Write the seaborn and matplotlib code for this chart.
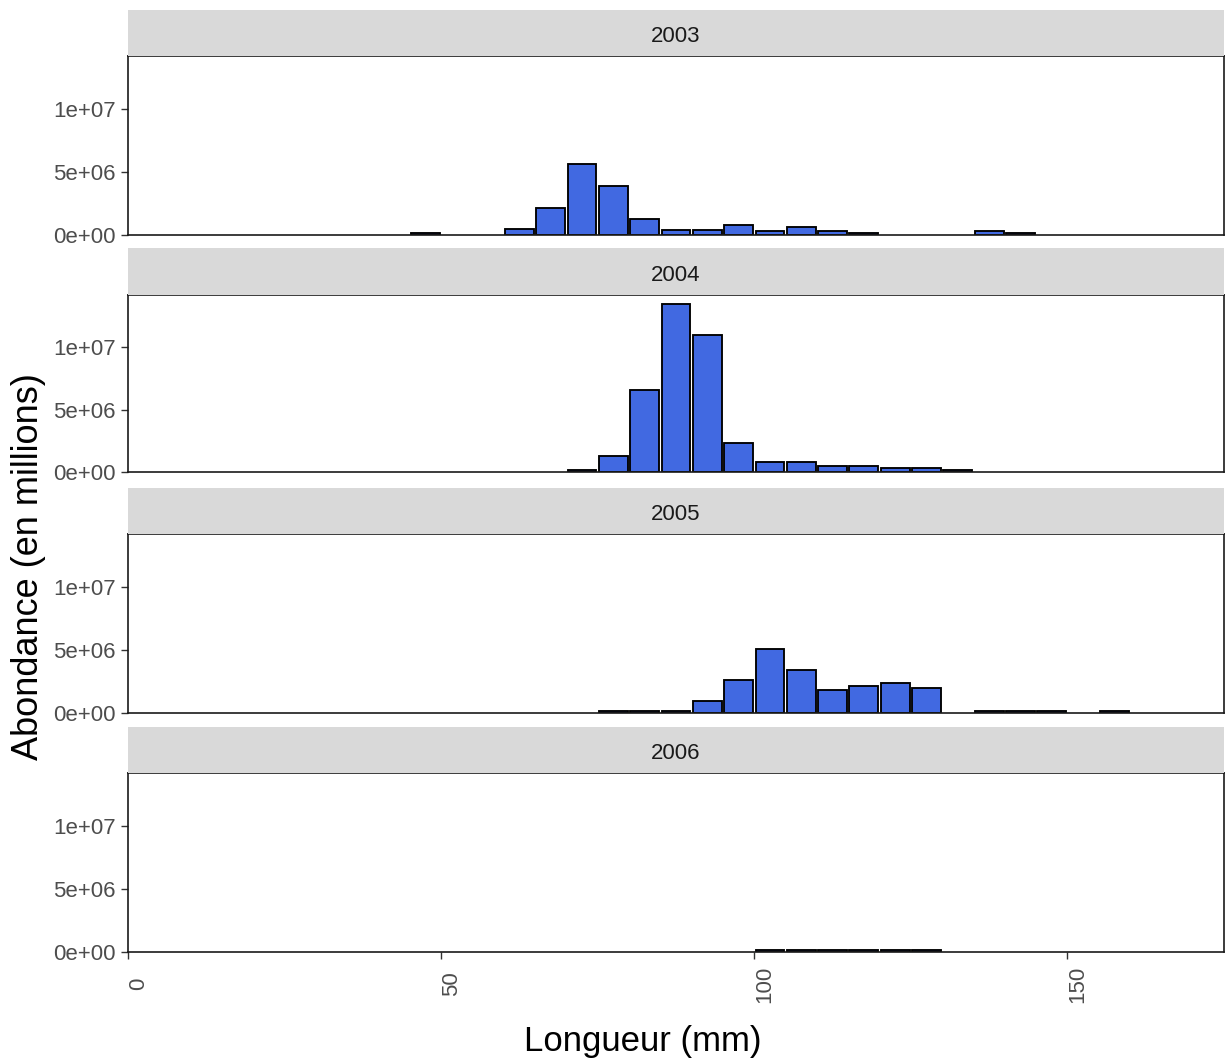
import numpy as np
import pandas as pd
import matplotlib
matplotlib.use("Agg")
import matplotlib.pyplot as plt
import seaborn as sns

# ~~~~~~~~~~~~~~~~~~~~~~~~~~~~~~~~~~~~~~~~~~~~~~~~~~~~~~~~~~~~~~~~~~~~~~~~~~~~~~~~~~~~~~~~~~~~~~~
# Length frequency (5 mm bins, value = bin midpoint) and abundance per year
# ~~~~~~~~~~~~~~~~~~~~~~~~~~~~~~~~~~~~~~~~~~~~~~~~~~~~~~~~~~~~~~~~~~~~~~~~~~~~~~~~~~~~~~~~~~~~~~~
years = [2003, 2004, 2005, 2006]

length_2003 = [47.5, 62.5, 67.5, 72.5, 77.5, 82.5, 87.5, 92.5, 97.5, 102.5, 107.5, 112.5,
               117.5, 137.5, 142.5]
abund_2003 = [0.12e6, 0.47e6, 2.15e6, 5.60e6, 3.88e6, 1.23e6, 0.42e6, 0.39e6, 0.76e6, 0.28e6,
              0.60e6, 0.31e6, 0.14e6, 0.34e6, 0.14e6]

length_2004 = [72.5, 77.5, 82.5, 87.5, 92.5, 97.5, 102.5, 107.5, 112.5, 117.5, 122.5, 127.5,
               132.5]
abund_2004 = [0.13e6, 1.28e6, 6.60e6, 13.5e6, 11.0e6, 2.35e6, 0.78e6, 0.78e6, 0.45e6, 0.45e6,
              0.30e6, 0.30e6, 0.13e6]

length_2005 = [77.5, 82.5, 87.5, 92.5, 97.5, 102.5, 107.5, 112.5, 117.5, 122.5, 127.5, 137.5,
               142.5, 147.5, 157.5]
abund_2005 = [0.12e6, 0.12e6, 0.12e6, 0.93e6, 2.65e6, 5.10e6, 3.40e6, 1.86e6, 2.14e6, 2.36e6,
              1.98e6, 0.12e6, 0.12e6, 0.12e6, 0.12e6]

length_2006 = [102.5, 107.5, 112.5, 117.5, 122.5, 127.5]
abund_2006 = [0.12e6, 0.12e6, 0.12e6, 0.12e6, 0.12e6, 0.12e6]

x_ticks = [0, 50, 100, 150]
y_ticks = [0, 5e6, 1e7]
y_tick_labels = ["0e+00", "5e+06", "1e+07"]

lengths = [length_2003, length_2004, length_2005, length_2006]
abunds = [abund_2003, abund_2004, abund_2005, abund_2006]

rows = []
for yr, ls, ab in zip(years, lengths, abunds):
    for l, a in zip(ls, ab):
        rows.append((yr, l, a))
df = pd.DataFrame(rows, columns=["year", "length", "abundance"])

# ~~~~~~~~~~~~~~~~~~~~~~~~~~~~~~~~~~~~~~~~~~~~~~~~~~~~~~~~~~~~~~~~~~~~~~~~~~~~~~~~~~~~~~~~~~~~~~~
# Layout, ggplot-like facets stacked vertically
# ~~~~~~~~~~~~~~~~~~~~~~~~~~~~~~~~~~~~~~~~~~~~~~~~~~~~~~~~~~~~~~~~~~~~~~~~~~~~~~~~~~~~~~~~~~~~~~~
sns.set_style("white")
plt.rcParams["font.family"] = ["Liberation Sans", "DejaVu Sans"]

W, H = 1225, 1062
fig = plt.figure(figsize=(W / 100, H / 100), dpi=100)

panels = [(56, 235), (295, 472), (534, 713), (773, 952)]  # pixel top/bottom
strips = [(10, 56), (248, 295), (488, 534), (727, 773)]
left, right = 128, 1224

for i, yr in enumerate(years):
    top, bot = panels[i]
    ax = fig.add_axes([left / W, 1 - bot / H, (right - left) / W, (bot - top) / H])
    sub = df[df["year"] == yr]
    sns.histplot(data=sub, x="length", weights="abundance", binwidth=5, binrange=(0, 175),
                 shrink=0.92, color="#4169E1", edgecolor="black", linewidth=1.35, alpha=1,
                 ax=ax)
    # drop the empty bins, otherwise they draw a black line on the baseline
    for p in list(ax.patches):
        if p.get_height() == 0:
            p.remove()
    ax.set_xlim(0, 175)
    ax.set_ylim(0, 14.2e6)
    ax.set_xlabel("")
    ax.set_ylabel("")
    ax.set_yticks(y_ticks)
    ax.set_yticklabels(y_tick_labels)
    ax.tick_params(axis="y", left=True, length=5, width=1, color="#333333",
                   labelsize=16, labelcolor="#4D4D4D", pad=4)
    ax.set_xticks(x_ticks)
    if i == len(years) - 1:
        ax.set_xticklabels([str(t) for t in x_ticks])
        ax.tick_params(axis="x", bottom=True, length=5, width=1, color="#333333",
                       labelsize=16, labelcolor="#4D4D4D", labelrotation=90, pad=18)
        for lbl in ax.get_xticklabels():
            lbl.set_va("center")
            lbl.set_ha("left")
    else:
        ax.tick_params(axis="x", bottom=False, labelbottom=False)
    for s in ax.spines.values():
        s.set_visible(True)
        s.set_color("#1A1A1A")
        s.set_linewidth(1.2)

    # strip with the year
    st, sb = strips[i]
    sax = fig.add_axes([left / W, 1 - sb / H, (right - left) / W, (sb - st) / H])
    sax.set_facecolor("#D9D9D9")
    sax.set_xticks([])
    sax.set_yticks([])
    for s in sax.spines.values():
        s.set_visible(False)
    sax.text(0.5, 0.42, str(yr), ha="center", va="center", fontsize=16, color="#1A1A1A",
             transform=sax.transAxes)

fig.text(29 / W, 1 - 567 / H, "Abondance (en millions)", rotation=90, ha="center",
         va="center", fontsize=26, color="black")
fig.text(643 / W, 1 - 1041 / H, "Longueur (mm)", ha="center", va="center", fontsize=25,
         color="black")

fig.savefig("out.png", dpi=100)
